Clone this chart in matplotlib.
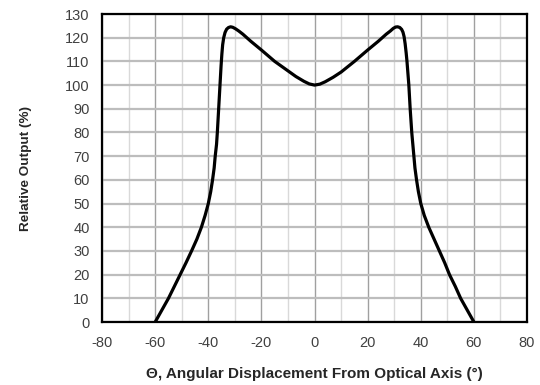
import matplotlib

matplotlib.use("Agg")
import matplotlib.pyplot as plt

# angular displacement (deg) and relative output (%)
angle = [-60, -57, -55, -52.8, -50.6, -48.4, -46.3, -44.3, -42.6, -41.2, -40,
         -39.1, -38.4, -37.8, -37.4, -36.9, -36.6, -36.1, -35.6, -35.2, -34.9,
         -34.6, -34.2, -33.7, -33.1, -32.4, -31.6, -30.8, -29.8, -28.5, -27,
         -24, -20, -15, -10, -7, -4, -2, 0, 2, 4, 7, 10, 15, 20, 24, 27, 28.5,
         29.6, 30.5, 31.3, 32.1, 32.8, 33.3, 33.7, 34.1, 34.5, 34.8, 35.5, 36,
         36.6, 37, 37.4, 37.8, 38.4, 39.1, 40, 41.3, 43, 45, 47, 49, 50.8, 53,
         55, 57.5, 60]
output = [0, 6, 10, 15, 20, 25, 30, 35, 40, 45, 50,
          55, 60, 65, 70, 75, 80, 90, 100, 108, 113,
          117, 120, 122.2, 123.6, 124.3, 124.6, 124.4, 123.8, 122.8, 121.5,
          118.5, 114.8, 110, 106, 103.6, 101.6, 100.5, 100, 100.4, 101.4, 103.3, 105.5, 110, 114.8, 118.5, 121.5, 122.8,
          123.9, 124.5, 124.6, 124.3, 123.5, 122.3, 120.5, 117.5, 113.5, 110, 100, 90,
          80, 75, 70, 65, 60, 55, 50, 45, 40, 35, 30, 25, 20, 15,
          10, 5, 0]

x_ticks = list(range(-80, 81, 20))
x_minor = list(range(-70, 80, 20))
y_ticks = list(range(0, 131, 10))

plt.rcParams["font.family"] = ["Liberation Sans", "DejaVu Sans"]
plt.rcParams["axes.unicode_minus"] = False

fig = plt.figure(figsize=(5.4, 3.85), dpi=100)
ax = fig.add_axes([0.189, 0.1636, 0.787, 0.8])

for xm in x_minor:
    ax.axvline(xm, color="#d9d9d9", lw=1.0, zorder=1)
for xt in x_ticks:
    ax.axvline(xt, color="#a0a0a0", lw=1.0, zorder=1)
for yt in y_ticks:
    ax.axhline(yt, color="#bdbdbd", lw=1.6, zorder=1)

ax.plot(angle, output, color="black", lw=2.3, solid_joinstyle="round",
        solid_capstyle="round", zorder=3)

ax.set_xlim(-80, 80)
ax.set_ylim(0, 130)
ax.set_xticks(x_ticks)
ax.set_yticks(y_ticks)
ax.tick_params(length=0, labelsize=10.5, colors="#404040")
ax.tick_params(axis="y", pad=9)
ax.tick_params(axis="x", pad=10)
for s in ax.spines.values():
    s.set_linewidth(1.6)
    s.set_color("black")
    s.set_zorder(4)

ax.set_xlabel("\u0398, Angular Displacement From Optical Axis (\u00b0)",
              fontsize=11, fontweight="bold", color="#262626", labelpad=12)
ax.set_ylabel("Relative Output (%)", fontsize=9.7, fontweight="bold",
              color="#262626", labelpad=24)

fig.savefig("out.png", dpi=100)
